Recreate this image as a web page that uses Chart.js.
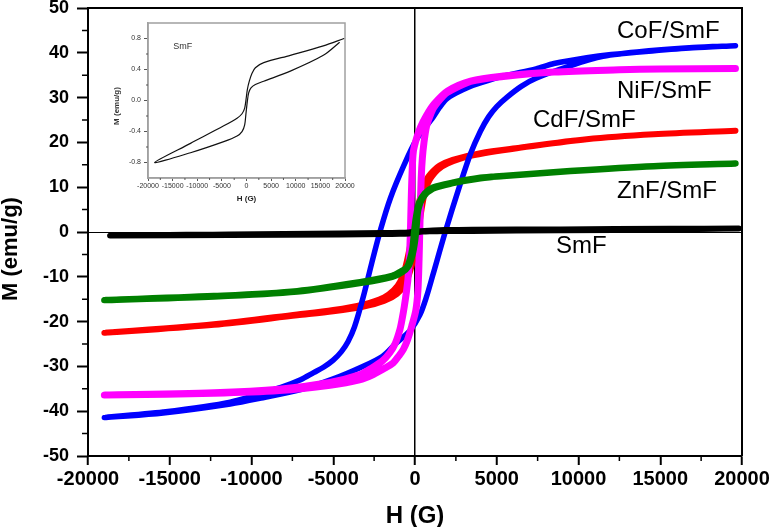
<!DOCTYPE html>
<html>
<head>
<meta charset="utf-8">
<script src="https://cdn.jsdelivr.net/npm/chart.js@4.4.0/dist/chart.umd.min.js"></script>
<style>
  html, body { margin: 0; padding: 0; background: #fff; }
  #wrap { position: relative; width: 772px; height: 527px; }
  #main { position: absolute; left: 0; top: 0; }
  #inset { position: absolute; left: 92px; top: 9px; background: #fff; }
</style>
</head>
<body>
<div id="wrap">
  <canvas id="main" width="772" height="527"></canvas>
  <canvas id="inset" width="265" height="198"></canvas>
</div>
<script>
// ── Data: H (G) and M (emu/g), each loop = descending branch then ascending branch ──
const cofH = [19600, 17000, 14500, 12000, 10500, 8500, 7400, 5400, 4000, 3300, 2500, 1900, 1500, 1100, 100, -700, -1500, -2100, -2650, -3150, -3700, -4100, -4500, -5000, -5600, -6200, -7000, -8200, -11300, -15400, -19000,
              -15400, -11300, -9300, -7000, -5000, -3300, -2000, -1200, -300, 300, 700, 1100, 1850, 2750, 3400, 4000, 4500, 5000, 5600, 6500, 7400, 9400, 11500, 14500, 17000, 19600];
const cofM = [41.6, 41.1, 40.4, 39.6, 38.9, 37.6, 36.4, 34.8, 33.3, 32.4, 31, 29.6, 27.8, 25.6, 20.7, 14.7, 7.6, 0.6, -7, -14.3, -21.2, -24.5, -26.7, -28.6, -30.2, -31.4, -33, -34.7, -38, -40.2, -41.4,
              -40.4, -38.4, -37, -35.2, -32.8, -30.2, -27.8, -25, -22, -18.5, -14.5, -9.5, 0, 10.5, 17.5, 22.5, 25.7, 28, 30, 32.5, 34.3, 37, 39.2, 40.5, 41.2, 41.6];

const nifH = [19600, 15000, 12500, 8500, 5400, 3400, 2000, 1150, 700, 350, 100, -100, -180, -240, -290, -350, -430, -530, -650, -780, -917, -1200, -1530, -2000, -2750, -3400, -5200, -8300, -12300, -19000,
              -12300, -8300, -5200, -3400, -2550, -1800, -1330, -1000, -710, -450, -200, 50, 180, 250, 290, 330, 380, 450, 550, 700, 917, 1150, 1730, 2000, 3400, 5400, 8500, 12500, 15000, 19600];
const nifM = [36.5, 36.4, 36.2, 35.7, 34.8, 33.7, 31.5, 28.5, 26, 23.5, 21, 18, 13, 6, -1, -6.5, -10.5, -13.5, -16.5, -19.3, -21.7, -24.8, -26.9, -28.8, -30.6, -31.9, -33.6, -35.1, -35.9, -36.4,
              -36.0, -35.4, -34.2, -33, -31.8, -30.3, -29.2, -27.7, -26.2, -24, -21, -17.5, -13, -6, 0, 6, 12, 16.5, 20, 23.5, 25.9, 27.8, 30.4, 31.2, 33.6, 34.7, 35.7, 36.2, 36.4, 36.5];

const cdfH = [19600, 14600, 10500, 6400, 4000, 2300, 1500, 1100, 800, 600, 300, 100, -150, -350, -600, -900, -1300, -1900, -3200, -5000, -7200, -12300, -19000,
              -12300, -7200, -5000, -3200, -1900, -1100, -600, -300, 0, 200, 400, 600, 800, 1000, 1400, 2000, 3400, 6400, 10500, 14600, 19600];
const cdfM = [22.6, 21.8, 20.7, 18.8, 17.6, 16.1, 14.8, 13.6, 12.3, 10.9, 7.5, 4, 0, -4, -8, -11, -13, -14.6, -16.2, -17.4, -18.4, -20.6, -22.5,
              -20.7, -18.6, -17.7, -16.7, -15.4, -13.8, -11.6, -8.8, -4.5, 0, 5, 8.8, 10.9, 12.2, 13.9, 15.3, 17, 18.8, 20.7, 21.8, 22.6];

const znfH = [19600, 14600, 9500, 5400, 4000, 2300, 1100, 600, 250, 50, -50, -150, -300, -500, -900, -1400, -3200, -7200, -12300, -19000,
              -12300, -7200, -3200, -1400, -800, -400, -150, 0, 100, 200, 500, 1100, 2300, 4000, 5400, 9500, 14600, 19600];
const znfM = [15.3, 14.7, 13.6, 12.5, 12.1, 11, 9.9, 8.6, 6.5, 3, 0, -3.5, -6, -7.9, -8.9, -9.8, -11.1, -13.2, -14.3, -15.2,
              -14.4, -13.3, -11.3, -10, -9, -7.6, -5, -2, 1.5, 5, 7.8, 9.7, 10.9, 12, 12.5, 13.6, 14.7, 15.3];

const smfH = [19800, 15600, 8900, 3500, 1800, 1100, 570, 170, -100, -370, -910, -1920, -4620, -11370, -18650,
              -11370, -4620, -1920, -910, -370, -100, 170, 440, 910, 1800, 3500, 8900, 15600, 18850];
const smfM = [0.80, 0.705, 0.583, 0.488, 0.423, 0.349, 0.249, 0.141, 0.011, -0.098, -0.171, -0.228, -0.327, -0.553, -0.800,
              -0.674, -0.531, -0.458, -0.401, -0.314, -0.163, -0.011, 0.098, 0.163, 0.206, 0.249, 0.379, 0.583, 0.748];

// Tick values
const xTicks      = [-20000, -15000, -10000, -5000, 0, 5000, 10000, 15000, 20000];
const xMinor      = [-17500, -12500, -7500, -2500, 2500, 7500, 12500, 17500];
const yTicks      = [-50, -40, -30, -20, -10, 0, 10, 20, 30, 40, 50];
const yMinor      = [-45, -35, -25, -15, -5, 5, 15, 25, 35, 45];
const insetYTicks = [-0.8, -0.4, 0, 0.4, 0.8];
const insetYMinor = [-0.6, -0.2, 0.2, 0.6];

const FONT = 'Arial, "Liberation Sans", Helvetica, sans-serif';

function toPoints(h, m) { return h.map((v, i) => ({ x: v, y: m[i] })); }

function line(label, h, m, color, width, order) {
  return {
    label, data: toPoints(h, m), showLine: true, borderColor: color, backgroundColor: color,
    borderWidth: width, pointRadius: 0, tension: 0.3, borderCapStyle: 'round', borderJoinStyle: 'round',
    order
  };
}

// label anchors in data units (left edge / baseline)
const seriesLabels = [
  { text: 'CoF/SmF', h: 12355, m: 43.3 },
  { text: 'NiF/SmF', h: 12355, m: 29.9 },
  { text: 'CdF/SmF', h: 7217,  m: 23.4 },
  { text: 'ZnF/SmF', h: 12355, m: 7.6 },
  { text: 'SmF',     h: 8624,  m: -4.7 }
];

// ── Main chart extras: frame, minor ticks, y title, curve labels ──
const mainExtras = {
  id: 'mainExtras',
  afterDraw(chart) {
    const { ctx, chartArea: a, scales: { x, y } } = chart;
    ctx.save();
    ctx.strokeStyle = '#000';
    ctx.lineWidth = 2;
    ctx.beginPath();
    ctx.moveTo(a.left, a.top); ctx.lineTo(a.right, a.top); ctx.lineTo(a.right, a.bottom);
    ctx.stroke();

    ctx.lineWidth = 1.5;
    ctx.beginPath();
    xMinor.forEach(v => { const p = x.getPixelForValue(v); ctx.moveTo(p, a.bottom); ctx.lineTo(p, a.bottom + 5); });
    yMinor.forEach(v => { const p = y.getPixelForValue(v); ctx.moveTo(a.left, p); ctx.lineTo(a.left - 6, p); });
    ctx.stroke();

    ctx.fillStyle = '#000';
    ctx.font = '24px ' + FONT;
    ctx.textAlign = 'left';
    ctx.textBaseline = 'alphabetic';
    seriesLabels.forEach(l => ctx.fillText(l.text, x.getPixelForValue(l.h), y.getPixelForValue(l.m)));

    ctx.translate(11, 249);
    ctx.rotate(-Math.PI / 2);
    ctx.font = 'bold 22px ' + FONT;
    ctx.textAlign = 'center';
    ctx.textBaseline = 'middle';
    ctx.fillText('M (emu/g)', 0, 0);
    ctx.restore();
  }
};

const zeroLine = c => (c.tick && c.tick.value === 0) ? '#000' : 'rgba(0,0,0,0)';

new Chart(document.getElementById('main'), {
  type: 'scatter',
  data: {
    datasets: [
      line('ZnF/SmF', znfH, znfM, '#008000', 6.5, 0),
      line('SmF',     smfH, smfM, '#000000', 6,   1),
      line('NiF/SmF', nifH, nifM, '#ff00ff', 7,   2),
      line('CoF/SmF', cofH, cofM, '#0000ff', 5.5, 3),
      line('CdF/SmF', cdfH, cdfM, '#ff0000', 6,   4)
    ]
  },
  options: {
    responsive: false,
    animation: false,
    devicePixelRatio: 1,
    layout: { padding: { left: 0, right: 30, top: 8, bottom: 0 } },
    plugins: { legend: { display: false }, tooltip: { enabled: false } },
    scales: {
      x: {
        type: 'linear', min: -20000, max: 20000,
        afterBuildTicks: s => { s.ticks = xTicks.map(v => ({ value: v })); },
        afterFit: s => { s.height = 71; s.paddingLeft = 0; s.paddingRight = 0; },
        ticks: { color: '#000', font: { family: FONT, size: 20, weight: 'bold' }, padding: 2, callback: v => String(v) },
        grid: { drawOnChartArea: true, color: zeroLine, lineWidth: 1.5, tickColor: '#000', tickLength: 9, tickWidth: 2 },
        border: { color: '#000', width: 2 },
        title: { display: true, text: 'H (G)', color: '#000', font: { family: FONT, size: 24, weight: 'bold', lineHeight: 1 }, padding: { top: 0, bottom: -1 } }
      },
      y: {
        type: 'linear', min: -50, max: 50,
        afterBuildTicks: s => { s.ticks = yTicks.map(v => ({ value: v })); },
        afterFit: s => { s.width = 88; s.paddingTop = 0; s.paddingBottom = 0; },
        ticks: { color: '#000', font: { family: FONT, size: 18, weight: 'bold' }, padding: 8 },
        grid: { drawOnChartArea: true, color: zeroLine, lineWidth: 1, tickColor: '#000', tickLength: 11, tickWidth: 2 },
        border: { color: '#000', width: 2 }
      }
    }
  },
  plugins: [mainExtras]
});

// ── Inset: SmF alone ──
const insetExtras = {
  id: 'insetExtras',
  afterDraw(chart) {
    const { ctx, chartArea: a, scales: { x, y } } = chart;
    ctx.save();
    ctx.strokeStyle = '#a0a0a0';
    ctx.lineWidth = 1.5;
    ctx.strokeRect(a.left, a.top, a.right - a.left, a.bottom - a.top);

    ctx.strokeStyle = '#555';
    ctx.lineWidth = 1;
    ctx.beginPath();
    xMinor.forEach(v => { const p = x.getPixelForValue(v); ctx.moveTo(p, a.bottom); ctx.lineTo(p, a.bottom + 2); });
    insetYMinor.forEach(v => { const p = y.getPixelForValue(v); ctx.moveTo(a.left, p); ctx.lineTo(a.left - 2, p); });
    ctx.stroke();

    ctx.fillStyle = '#333';
    ctx.font = '9px ' + FONT;
    ctx.textAlign = 'left';
    ctx.fillText('SmF', x.getPixelForValue(-14850), y.getPixelForValue(0.668));

    ctx.translate(25, 97);
    ctx.rotate(-Math.PI / 2);
    ctx.font = 'bold 8px ' + FONT;
    ctx.textAlign = 'center';
    ctx.textBaseline = 'middle';
    ctx.fillText('M (emu/g)', 0, 0);
    ctx.restore();
  }
};

new Chart(document.getElementById('inset'), {
  type: 'scatter',
  data: { datasets: [line('SmF', smfH, smfM, '#111', 1.2, 0)] },
  options: {
    responsive: false,
    animation: false,
    devicePixelRatio: 1,
    layout: { padding: { left: 0, right: 12, top: 14, bottom: 0 } },
    plugins: { legend: { display: false }, tooltip: { enabled: false } },
    scales: {
      x: {
        type: 'linear', min: -20000, max: 20000,
        afterBuildTicks: s => { s.ticks = xTicks.map(v => ({ value: v })); },
        afterFit: s => { s.height = 29; s.paddingLeft = 0; s.paddingRight = 0; },
        ticks: { color: '#333', font: { family: FONT, size: 7 }, padding: 1, maxRotation: 0, autoSkip: false, callback: v => String(v) },
        grid: { drawOnChartArea: false, tickColor: '#555', tickLength: 3, tickWidth: 1 },
        border: { color: '#a0a0a0', width: 1.5 },
        title: { display: true, text: 'H (G)', color: '#222', font: { family: FONT, size: 8, weight: 'bold', lineHeight: 1 }, padding: { top: 0, bottom: 4 } }
      },
      y: {
        type: 'linear', min: -1, max: 1,
        afterBuildTicks: s => { s.ticks = insetYTicks.map(v => ({ value: v })); },
        afterFit: s => { s.width = 56; s.paddingTop = 0; s.paddingBottom = 0; },
        ticks: { color: '#333', font: { family: FONT, size: 7 }, padding: 3, callback: v => v.toFixed(1) },
        grid: { drawOnChartArea: false, tickColor: '#555', tickLength: 4, tickWidth: 1 },
        border: { color: '#a0a0a0', width: 1.5 }
      }
    }
  },
  plugins: [insetExtras]
});
</script>
</body>
</html>
